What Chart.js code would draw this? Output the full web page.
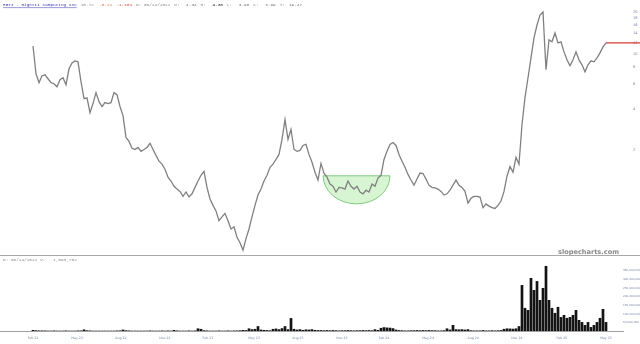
<!DOCTYPE html>
<html><head><meta charset="utf-8">
<script src="https://cdn.jsdelivr.net/npm/chart.js@4.4.1/dist/chart.umd.min.js"></script>
<style>
html,body{margin:0;padding:0;background:#fff;width:640px;height:344px;overflow:hidden}
#p{position:absolute;left:0;top:0;width:640px;height:255px}
#v{position:absolute;left:0;top:255px;width:640px;height:89px}
</style></head><body>
<div id="p"><canvas id="pc"></canvas></div>
<div id="v"><canvas id="vc"></canvas></div>
<script>
// ---- data (sample index ≈ weekly) ----
const prices = [
 11.38,7.16,6.17,6.93,7.04,6.59,6.17,6.07,5.77,6.48,6.70,5.97,7.78,8.59,8.88,8.74,
 6.27,4.73,4.80,3.75,4.36,5.23,4.50,4.15,4.43,4.36,4.43,5.23,5.06,4.15,3.57,2.48,
 2.32,2.07,2.03,2.10,1.97,2.03,2.10,2.25,2.03,1.84,1.67,1.59,1.46,1.28,1.20,1.10,
 1.05,1.01,0.93,1.00,0.92,0.97,1.08,1.20,1.32,1.41,1.08,0.89,0.80,0.73,0.62,0.66,
 0.70,0.62,0.54,0.56,0.47,0.43,0.38,0.46,0.54,0.66,0.80,0.95,1.05,1.20,1.32,1.51,
 1.59,1.72,1.87,2.40,3.34,2.40,2.83,2.03,1.97,2.00,2.17,2.21,1.87,1.64,1.39,1.22,
 1.61,1.37,1.28,1.14,1.10,1.00,1.08,1.07,1.05,1.20,1.10,1.05,1.10,1.00,0.97,1.03,
 1.00,1.14,1.10,1.26,1.32,1.72,1.97,2.21,2.28,2.17,1.87,1.67,1.51,1.34,1.22,1.12,
 1.24,1.37,1.36,1.24,1.12,1.08,1.07,1.05,1.01,0.95,0.97,1.03,1.12,1.22,1.12,1.08,
 1.01,0.83,0.90,0.93,0.93,0.92,0.77,0.82,0.79,0.77,0.76,0.80,0.86,1.01,1.30,1.53,
 1.39,1.78,1.59,3.08,4.81,6.70,9.34,13.00,16.13,19.03,20.00,7.65,12.58,12.20,14.13,11.97,
 12.17,10.31,9.03,8.18,9.03,10.31,9.03,8.31,7.40,8.31,8.88,8.74,9.34,10.14,11.20,11.97
];
const volumesM = [
 6,4,3,3,3,2,2,3,2,2,2,3,2,2,2,3,
 3,9,4,3,2,2,2,2,2,2,2,2,3,3,8,4,
 3,2,2,2,2,2,2,3,2,2,2,3,2,3,2,6,
 3,2,2,2,3,2,3,15,12,4,3,2,2,2,3,2,
 2,3,2,3,3,4,6,5,15,10,12,28,8,6,5,4,
 12,14,10,16,28,10,75,12,8,10,6,9,8,10,6,5,
 5,4,5,4,5,4,3,4,4,5,4,3,4,4,5,4,
 5,4,10,6,18,22,20,19,16,8,5,4,3,3,4,4,
 5,4,5,4,5,4,4,3,3,4,15,8,35,10,9,10,
 8,10,4,3,3,3,5,3,3,4,3,4,5,12,15,14,
 13,15,28,267,134,122,308,238,290,180,250,378,180,134,105,140,
 81,93,76,81,93,122,64,52,35,52,23,35,52,76,128,52
];
const xTickPos = [0,14.7,29.3,44,58.3,73.7,88.3,103,117,131.7,146.7,161.3,176.3,191];
const xTickLabels = ["Feb 22","May 22","Aug 22","Nov 22","Feb 23","May 23","Aug 23","Nov 23","Feb 24","May 24","Aug 24","Nov 24","Feb 25","May 25"];
const priceTicks = [2,4,6,8,10,12,14,16,18,20];
const volumeTicksM = [50,100,150,200,250,300,350];
const cupRange = [96.7, 119];     // sample-index span of the cup annotation
const cupLevels = [1.31, 0.82];   // rim price, bottom price
const headerParts = [
 ["RGTI - Rigetti Computing Inc","#3b3bb0",1,true],
 ["10.72","#888",1.5],["-0.12","#e0763c",1],["-1.10%","#d94a4a",1],
 ["D: 06/24/2022","#888",1],["O:","#888",2],["4.34","#777",1],
 ["H:","#888",2],["4.38","#555",1,false,true],["L:","#888",2],["3.98","#777",1],
 ["C:","#888",2],["3.99","#777",1],["T:","#888",1],["19.47","#777",0]
];
const volHeader = "D: 06/24/2022 V:   1,893,752";

const XMIN = -11;
const HFONT = '4.4px "Liberation Mono"';

const pricePlugin = {
  id:'priceDeco',
  beforeDatasetsDraw(chart){
    const {ctx, scales:{x,y}} = chart;
    const x0 = x.getPixelForValue(cupRange[0]), x1 = x.getPixelForValue(cupRange[1]);
    const yt = y.getPixelForValue(cupLevels[0]), yb = y.getPixelForValue(cupLevels[1]);
    ctx.save();
    ctx.beginPath();
    ctx.ellipse((x0+x1)/2, yt, (x1-x0)/2, yb-yt, 0, 0, Math.PI);
    ctx.closePath();
    ctx.fillStyle='rgba(140,225,130,0.35)';
    ctx.fill();
    ctx.strokeStyle='rgba(80,180,80,0.85)';
    ctx.lineWidth=0.8;
    ctx.stroke();
    ctx.restore();
  },
  afterDatasetsDraw(chart){
    const {ctx, scales:{x,y}} = chart;
    const last = prices.length-1;
    const lx = x.getPixelForValue(last), ly = y.getPixelForValue(prices[last]);
    ctx.save();
    ctx.strokeStyle='#d83a3a'; ctx.lineWidth=1.4;
    ctx.beginPath(); ctx.moveTo(lx, ly); ctx.lineTo(chart.width, ly); ctx.stroke();
    // header
    ctx.font = HFONT; ctx.textBaseline='middle';
    const cw = ctx.measureText('0').width;
    let hx = 3; const hy = 5;
    headerParts.forEach(([t,c,gap,ul,bold])=>{
      ctx.font = (bold?'bold ':'') + HFONT;
      ctx.fillStyle=c; ctx.fillText(t,hx,hy);
      const w = ctx.measureText(t).width;
      if(ul){ctx.strokeStyle=c;ctx.lineWidth=0.5;ctx.beginPath();ctx.moveTo(hx,hy+2.6);ctx.lineTo(hx+w,hy+2.6);ctx.stroke();}
      hx += w + gap*cw + cw*0.5;
    });
    // watermark
    ctx.font='bold 6.6px "DejaVu Sans"'; ctx.fillStyle='#8a8a8a'; ctx.textBaseline='alphabetic';
    ctx.fillText('slopecharts.com', 558, 254);
    ctx.restore();
  }
};

new Chart(document.getElementById('pc'), {
  type:'line',
  data:{datasets:[{data:prices.map((p,i)=>({x:i,y:p})), borderColor:'#808080', borderWidth:1.3, pointRadius:0, tension:0}]},
  options:{
    responsive:true, maintainAspectRatio:false, animation:false, devicePixelRatio:1,
    layout:{padding:{top:2,bottom:1,left:0,right:0}},
    plugins:{legend:{display:false},tooltip:{enabled:false}},
    scales:{
      x:{type:'linear', min:XMIN, max:200, display:false},
      y:{type:'logarithmic', position:'right', min:0.363, max:23.6,
         grid:{display:false, drawTicks:false}, border:{display:false},
         afterBuildTicks:s=>{s.ticks=priceTicks.map(v=>({value:v}));},
         afterFit:s=>{s.width=7;},
         ticks:{padding:0, font:{size:3.6, family:'"DejaVu Sans"'}, color:'#7a80a8', callback:v=>String(v)}}
    }
  },
  plugins:[pricePlugin]
});

const volPlugin = {
  id:'volDeco',
  afterDraw(chart){
    const {ctx}=chart;
    ctx.save();
    ctx.strokeStyle='#a8a8a8'; ctx.lineWidth=1;
    ctx.beginPath(); ctx.moveTo(0,0.5); ctx.lineTo(chart.width,0.5); ctx.stroke();
    ctx.font=HFONT; ctx.fillStyle='#888'; ctx.textBaseline='middle';
    ctx.fillText(volHeader,3,5);
    ctx.restore();
  }
};

new Chart(document.getElementById('vc'), {
  type:'bar',
  data:{datasets:[{data:volumesM.map((v,i)=>({x:i,y:v*1e6})), backgroundColor:'#141414', barPercentage:1, categoryPercentage:0.9}]},
  options:{
    responsive:true, maintainAspectRatio:false, animation:false, devicePixelRatio:1,
    layout:{padding:{top:3,bottom:0,left:0,right:0}},
    plugins:{legend:{display:false},tooltip:{enabled:false}},
    scales:{
      x:{type:'linear', min:XMIN, max:196.67, offset:false,
         grid:{display:false, drawTicks:false}, border:{display:true,color:'#a0a0a0',width:1},
         afterBuildTicks:s=>{s.ticks=xTickPos.map(v=>({value:v}));},
         afterFit:s=>{s.height=13;},
         ticks:{autoSkip:false, maxRotation:0, padding:5, font:{size:3.2, family:'"DejaVu Sans"'}, color:'#7d87aa',
                callback:(v,i)=>xTickLabels[i]}},
      y:{type:'linear', position:'right', min:0, max:424e6,
         grid:{display:false, drawTicks:false}, border:{display:false},
         afterBuildTicks:s=>{s.ticks=volumeTicksM.map(v=>({value:v*1e6}));},
         afterFit:s=>{s.width=17;},
         ticks:{padding:0, font:{size:2.8, family:'"DejaVu Sans"'}, color:'#7a80a8',
                callback:v=>Number(v).toLocaleString('en-US')}}
    }
  },
  plugins:[volPlugin]
});
</script>
</body></html>
